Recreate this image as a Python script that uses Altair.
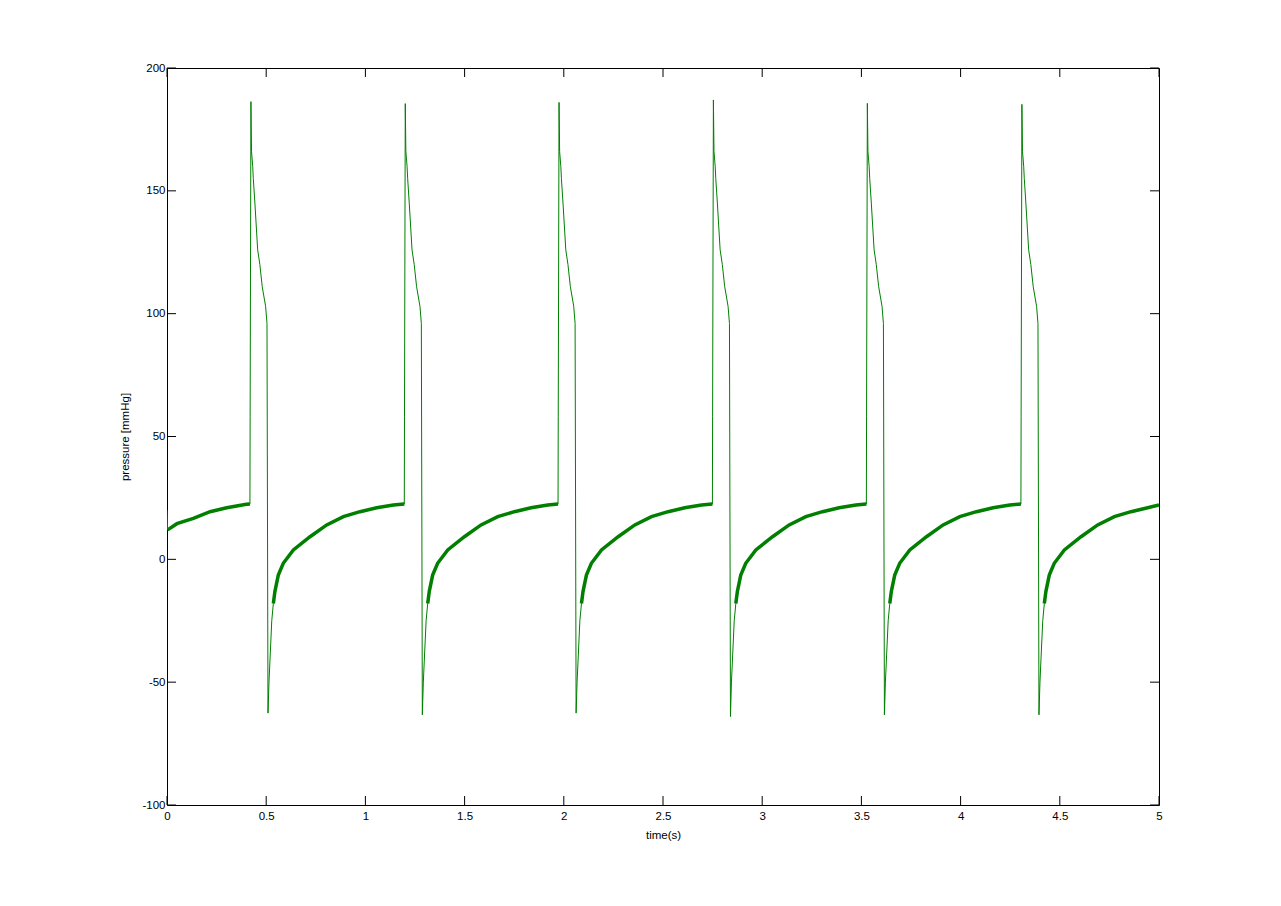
import altair as alt
import pandas as pd

# ---- values ----
start_t = [0.000, 0.003, 0.050, 0.133, 0.217, 0.301, 0.400]
start_p = [20.0, 12.0, 14.5, 16.7, 19.4, 21.0, 22.4]

onsets = [0.418, 1.196, 1.971, 2.749, 3.525, 4.304]
peaks = [186.3, 185.5, 186.0, 187.0, 185.6, 185.2]
troughs = [-62.6, -63.3, -62.6, -64.0, -63.3, -63.3]

beat_dt = [0.000, 0.001, 0.005, 0.008, 0.014, 0.017, 0.025, 0.039, 0.050, 0.062,
           0.079, 0.086, 0.091, 0.096, 0.101, 0.110, 0.118, 0.126, 0.143, 0.168,
           0.219, 0.303, 0.387, 0.471, 0.555, 0.639, 0.723]
beat_p = [22.5, 58.0, "peak", 166.0, 160.0, 155.0, 145.0, 126.0, 120.0, 111.0,
          103.0, 96.0, "trough", -50.0, -41.0, -25.0, -18.0, -13.0, -6.4, -1.6,
          3.8, 9.2, 14.0, 17.4, 19.4, 21.0, 22.1]
noisy_from = 0.118

end_t = 5.0
end_p = 22.1

x_ticks = [0, 0.5, 1, 1.5, 2, 2.5, 3, 3.5, 4, 4.5, 5]
y_ticks = [-100, -50, 0, 50, 100, 150, 200]

GREEN = "#007f00"
W, H = 992, 737
TICK = 9

# ---- build tables ----
thin = []
thick = []
for t, p in zip(start_t, start_p):
    thin.append({"t": t, "p": p})
    if t > 0.0:
        thick.append({"t": t, "p": p, "seg": 0})
for i, (t0, pk, tr) in enumerate(zip(onsets, peaks, troughs)):
    if i == 0:
        thick.append({"t": t0, "p": beat_p[0], "seg": 0})
    for dt, p in zip(beat_dt, beat_p):
        t = round(t0 + dt, 4)
        if t > end_t:
            break
        v = pk if p == "peak" else (tr if p == "trough" else p)
        thin.append({"t": t, "p": v})
        if dt >= noisy_from:
            thick.append({"t": t, "p": v, "seg": i + 1})
    if i + 1 < len(onsets):
        thick.append({"t": onsets[i + 1], "p": beat_p[0], "seg": i + 1})
    else:
        thick.append({"t": end_t, "p": end_p, "seg": i + 1})
thin.append({"t": end_t, "p": end_p})

df_thin = pd.DataFrame(thin)
df_thick = pd.DataFrame(thick)
df_xt = pd.DataFrame({"t": x_ticks})
df_yt = pd.DataFrame({"p": y_ticks})

xscale = alt.Scale(domain=[0, 5], nice=False, zero=False)
yscale = alt.Scale(domain=[-100, 200], nice=False, zero=False)

font = "Liberation Sans"

x_enc = alt.X(
    "t:Q", scale=xscale,
    axis=alt.Axis(values=x_ticks, ticks=False, domain=False, grid=False,
                  title="time(s)", labelExpr="datum.value + ''",
                  labelPadding=5, titlePadding=8, labelFlush=False,
                  labelFont=font, labelFontSize=11.5, labelColor="black",
                  titleFont=font, titleFontSize=11.5, titleFontWeight="normal",
                  titleColor="black"))
y_enc = alt.Y(
    "p:Q", scale=yscale,
    axis=alt.Axis(values=y_ticks, ticks=False, domain=False, grid=False,
                  title="pressure [mmHg]", labelExpr="datum.value + ''",
                  labelPadding=2, titlePadding=11, labelFlush=False,
                  labelFont=font, labelFontSize=11.5, labelColor="black",
                  titleFont=font, titleFontSize=11.5, titleFontWeight="normal",
                  titleColor="black"))

thin_line = alt.Chart(df_thin).mark_line(color=GREEN, strokeWidth=1, clip=True).encode(
    x=x_enc, y=y_enc, order="t:Q")

thick_line = alt.Chart(df_thick).mark_line(color=GREEN, strokeWidth=3.5, clip=True).encode(
    x=alt.X("t:Q", scale=xscale), y=alt.Y("p:Q", scale=yscale),
    detail="seg:N", order="t:Q")

xt_bottom = alt.Chart(df_xt).mark_rule(color="black", strokeWidth=1).encode(
    x=alt.X("t:Q", scale=xscale), y=alt.value(H), y2=alt.value(H - TICK))
xt_top = alt.Chart(df_xt).mark_rule(color="black", strokeWidth=1).encode(
    x=alt.X("t:Q", scale=xscale), y=alt.value(0), y2=alt.value(TICK))
yt_left = alt.Chart(df_yt).mark_rule(color="black", strokeWidth=1).encode(
    y=alt.Y("p:Q", scale=yscale), x=alt.value(0), x2=alt.value(TICK))
yt_right = alt.Chart(df_yt).mark_rule(color="black", strokeWidth=1).encode(
    y=alt.Y("p:Q", scale=yscale), x=alt.value(W), x2=alt.value(W - TICK))

chart = alt.layer(thin_line, thick_line, xt_bottom, xt_top, yt_left, yt_right).properties(
    width=W, height=H,
    padding={"left": 159, "top": 60, "right": 100, "bottom": 80},
    autosize=alt.AutoSizeParams(type="none"),
    background="white",
).configure_view(stroke="black", strokeWidth=1)

chart.save("out.html", embed_options={"renderer": "svg", "actions": False})
